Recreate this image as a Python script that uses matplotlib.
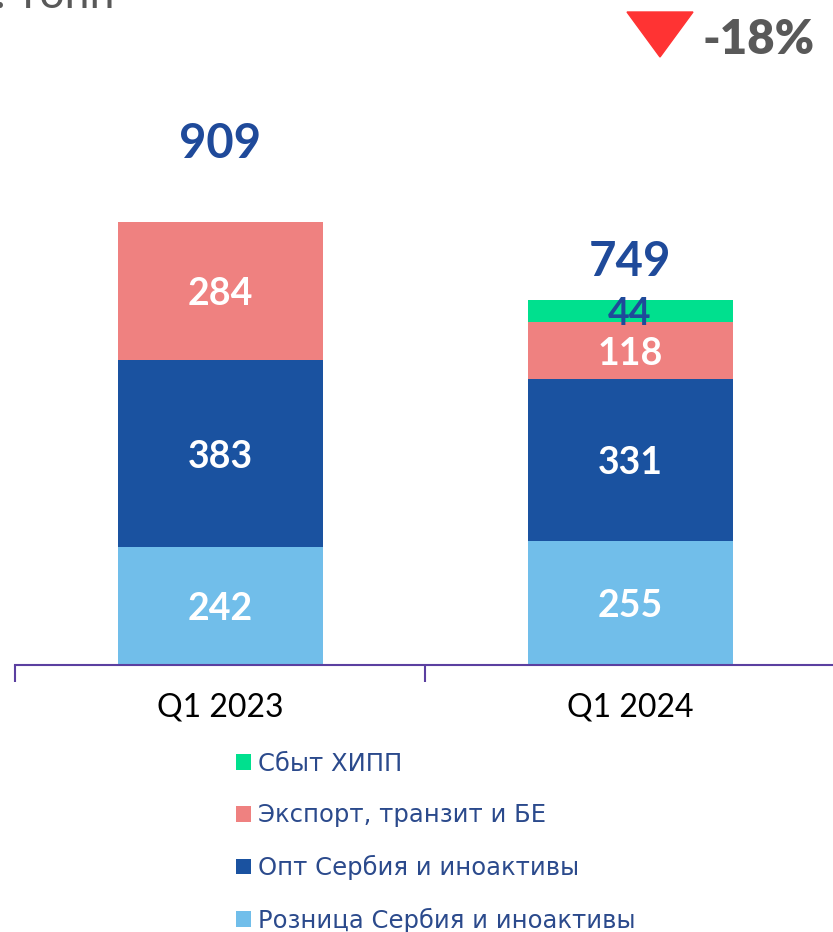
import matplotlib
matplotlib.use('Agg')
import matplotlib.pyplot as plt
from matplotlib.patches import Polygon
import numpy as np

# данные
periods = ['Q1 2023', 'Q1 2024']
series_names = ['Розница Сербия и иноактивы', 'Опт Сербия и иноактивы',
                'Экспорт, транзит и БЕ', 'Сбыт ХИПП']
retail = [242, 255]
wholesale = [383, 331]
export = [284, 118]
hipp = [0, 44]
totals = [909, 749]
change_label = '-18%'
unit_label = 'тыс. тонн'

colors = ['#71BEEA', '#1A52A0', '#EF8180', '#00E08E']
label_colors = ['white', 'white', 'white', '#1F4A9A']
total_color = '#1F4A9A'

plt.rcParams['font.family'] = ['Lato', 'DejaVu Sans']

fig = plt.figure(figsize=(8.33, 9.32), dpi=100)
ax = fig.add_axes([15 / 833, 267 / 932, 820 / 833, 665 / 932])

x = np.arange(len(periods))
bottom = np.zeros(len(periods))
bars = []
for vals, col, lcol, name in zip([retail, wholesale, export, hipp], colors, label_colors, series_names):
    vals = np.array(vals, dtype=float)
    b = ax.bar(x, vals, width=0.5, bottom=bottom, color=col, label=name)
    bars.append(b)
    for xi, v, b0 in zip(x, vals, bottom):
        if v > 0:
            ax.text(xi, b0 + v / 2, str(int(v)), ha='center', va='center_baseline',
                    color=lcol, fontsize=27, fontweight='bold')
    bottom += vals

# итоги над столбцами
total_y = [1077, 835]
for xi, t, ty in zip(x, totals, total_y):
    ax.text(xi, ty, str(t), ha='center', va='center_baseline', color=total_color,
            fontsize=34, fontweight='bold')

ax.set_xlim(-0.5, 1.5)
ax.set_ylim(0, 665 / 0.4873)
for s in ['top', 'right', 'left']:
    ax.spines[s].set_visible(False)
ax.spines['bottom'].set_color('#5B3FA0')
ax.spines['bottom'].set_linewidth(1.5)
ax.set_yticks([])
ax.set_xticks([-0.5, 0.5, 1.5])
ax.set_xticklabels([])
ax.set_xticks(x, minor=True)
ax.set_xticklabels(periods, minor=True, fontsize=23, color='black')
ax.tick_params(axis='x', which='major', length=12, width=1.5, color='#5B3FA0', direction='out')
ax.tick_params(axis='x', which='minor', length=0, pad=20)

# легенда
handles = [bars[3], bars[2], bars[1], bars[0]]
names = [series_names[3], series_names[2], series_names[1], series_names[0]]
leg = fig.legend(handles, names, loc='upper left', bbox_to_anchor=(214 / 833, 1 - 730 / 932),
                 frameon=False, handlelength=0.62, handleheight=0.62, handletextpad=0.3,
                 labelspacing=1.13, prop={'family': 'DejaVu Sans', 'size': 17.5},
                 labelcolor='#2B4A8C')

# изменение
tri = Polygon([[627 / 833, 1 - 12 / 932], [693 / 833, 1 - 12 / 932], [660 / 833, 1 - 57 / 932]],
              closed=True, transform=fig.transFigure, color='#FF3333')
fig.patches.append(tri)
fig.text(815 / 833, 1 - 40 / 932, change_label, ha='right', va='center',
         fontsize=34, fontweight='heavy', color='#595959')

# единицы (обрезано сверху)
fig.text(115 / 833, 1 - 8 / 932, unit_label, ha='right', va='baseline',
         fontsize=32, color='#595959')

fig.savefig('out.png', dpi=100)
